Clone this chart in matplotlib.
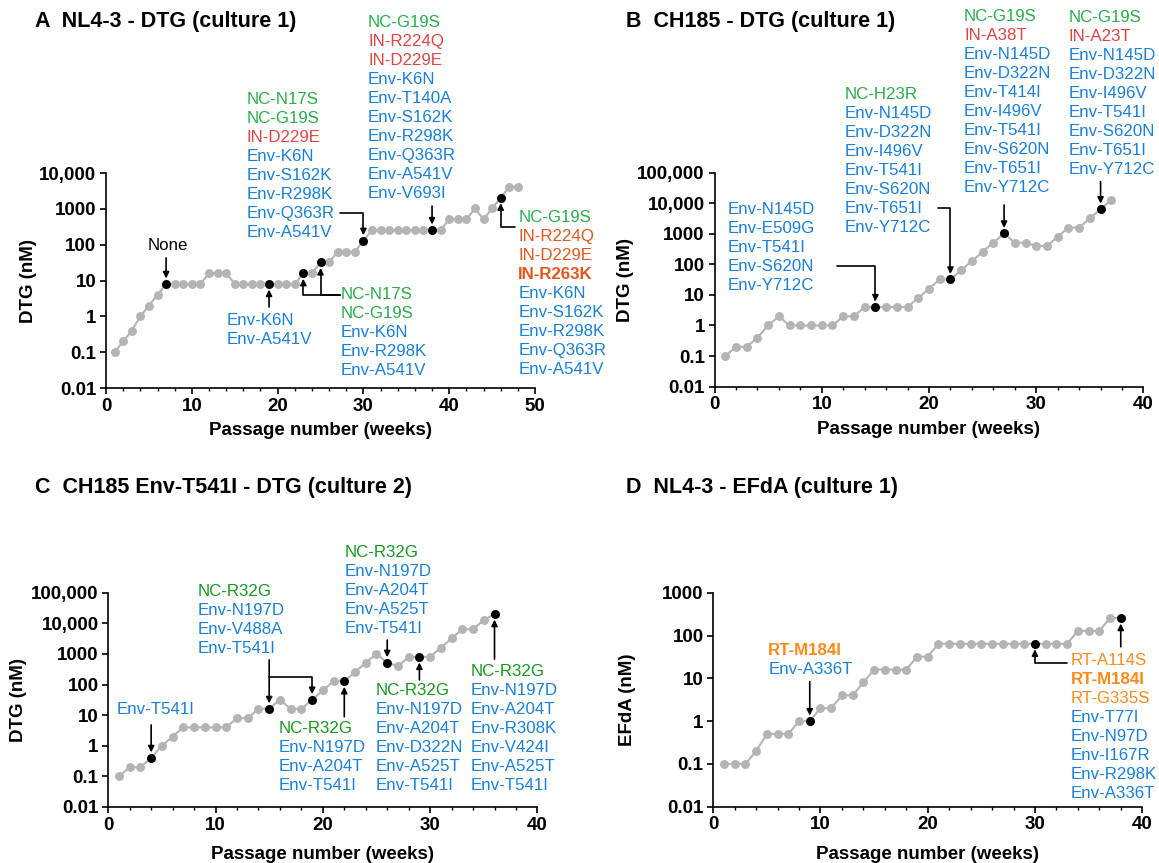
import numpy as np
import matplotlib
matplotlib.use('Agg')
import matplotlib.pyplot as plt
from matplotlib.ticker import MultipleLocator, NullLocator

plt.rcParams['font.family'] = ['Liberation Sans', 'DejaVu Sans']

# colours
GRAY = '#b4b4b4'
BLUE = '#1a80d9'
GREEN = '#2aad4a'
RED = '#e04545'
ORED = '#e2571e'
DGREEN = '#17981f'
ORANGE = '#ff8a1c'

# --- data: drug concentration (nM) per passage week, starting at week 1 ---
a_dtg = [0.1, 0.2, 0.4, 1, 2, 4, 8, 8, 8, 8, 8, 16, 16, 16,
         8, 8, 8, 8, 8, 8, 8, 8, 16, 16, 32, 32, 64, 64, 64, 128,
         256, 256, 256, 256, 256, 256, 256, 256, 256,
         512, 512, 512, 1024, 512, 1024, 2048, 4096, 4096]
a_seq = [7, 19, 23, 25, 30, 38, 46]

b_dtg = [0.1, 0.2, 0.2, 0.4, 1, 2, 1, 1, 1, 1, 1, 2, 2, 4, 4, 4, 4, 4,
         8, 16, 32, 32, 64, 128, 256, 512, 1024, 512, 512, 400, 400,
         800, 1600, 1600, 3200, 6400, 12800]
b_seq = [15, 22, 27, 36]

c_dtg = [0.1, 0.2, 0.2, 0.4, 1, 2, 4, 4, 4, 4, 4, 8, 8, 16, 16, 32, 16, 16,
         32, 64, 128, 128, 256, 512, 1024, 512, 400, 800, 800, 800,
         1600, 3200, 6400, 6400, 12800, 20000]
c_seq = [4, 15, 19, 22, 26, 29, 36]

d_efda = [0.1, 0.1, 0.1, 0.2, 0.5, 0.5, 0.5, 1, 1, 2, 2, 4, 4, 8,
          16, 16, 16, 16, 32, 32] + [64] * 13 + [128, 128, 128, 256, 256]
d_seq = [9, 30, 38]

# y axis ticks
ticks_a = [0.01, 0.1, 1, 10, 100, 1000, 10000]
labels_a = ['0.01', '0.1', '1', '10', '100', '1000', '10,000']
ticks_bc = ticks_a + [100000]
labels_bc = labels_a + ['100,000']
ticks_d = [0.01, 0.1, 1, 10, 100, 1000]
labels_d = ['0.01', '0.1', '1', '10', '100', '1000']

FS = 12.2
STEP = 19


def panel(ax, values, seq, xmax, ticks, labels, ylabel, ylab_x, xlab_y):
    weeks = np.arange(1, len(values) + 1)
    vals = np.array(values, dtype=float)
    ax.plot(weeks, vals, '-o', color=GRAY, ms=5.4, lw=1.5, zorder=2, clip_on=False)
    idx = np.array(seq) - 1
    ax.plot(weeks[idx], vals[idx], 'o', color='k', ms=5.4, zorder=3, clip_on=False)
    ax.set_yscale('log')
    ax.set_xlim(0, xmax)
    ax.set_ylim(ticks[0], ticks[-1])
    ax.set_yticks(ticks)
    ax.set_yticklabels(labels)
    ax.yaxis.set_minor_locator(NullLocator())
    ax.xaxis.set_major_locator(MultipleLocator(10))
    ax.xaxis.set_minor_locator(MultipleLocator(2))
    for s in ['top', 'right']:
        ax.spines[s].set_visible(False)
    for s in ['left', 'bottom']:
        ax.spines[s].set_linewidth(1.2)
    ax.tick_params(which='major', length=4.5, width=1.2, pad=2.5, labelsize=13.5)
    ax.tick_params(which='minor', length=2.5, width=1.0)
    for t in ax.get_xticklabels() + ax.get_yticklabels():
        t.set_fontweight('bold')
    ax.set_ylabel(ylabel, fontsize=13.5, fontweight='bold', va='center')
    ax.yaxis.set_label_coords(ylab_x, 0.5)
    ax.set_xlabel('Passage number (weeks)', fontsize=13.5, fontweight='bold', va='center')
    ax.xaxis.set_label_coords(0.5, xlab_y)
    return weeks, vals


def arrow(ax, w, v, dx, dy, elbow=False):
    cs = 'angle,angleA=0,angleB=90,rad=0' if elbow else 'arc3'
    ax.annotate('', xy=(w, v), xytext=(dx, dy), textcoords='offset pixels',
                arrowprops=dict(arrowstyle='-|>', color='k', lw=1.2, shrinkA=0,
                                shrinkB=4, mutation_scale=9, connectionstyle=cs))


def block(ax, w, v, dx, dy, lines, ha='left'):
    for i, (s, c) in enumerate(lines):
        bold = s.startswith('*')
        ax.annotate(s.lstrip('*'), xy=(w, v), xytext=(dx, dy - i * STEP - 6),
                    textcoords='offset pixels', ha=ha, va='baseline', color=c,
                    fontsize=FS, fontweight='bold' if bold else 'normal')


fig = plt.figure(figsize=(11.59, 8.63), dpi=100)
axA = fig.add_axes([0.0915, 0.5504, 0.3701, 0.2491])
axB = fig.add_axes([0.6165, 0.5520, 0.3701, 0.2479])
axC = fig.add_axes([0.0934, 0.0649, 0.3703, 0.2483])
axD = fig.add_axes([0.6154, 0.0652, 0.3701, 0.2480])

# ---------------- A ----------------
w, v = panel(axA, a_dtg, a_seq, 50, ticks_a, labels_a, 'DTG (nM)', -0.18, -0.2)
P = lambda k: (w[k - 1], v[k - 1])
block(axA, *P(7), 2, 40, [('None', 'k')], ha='center')
arrow(axA, *P(7), 0, 26)
block(axA, *P(19), -42, -35, [('Env-K6N', BLUE), ('Env-A541V', BLUE)])
arrow(axA, *P(19), 0, -23)
block(axA, *P(23), 37, -20, [('NC-N17S', GREEN), ('NC-G19S', GREEN), ('Env-K6N', BLUE),
                             ('Env-R298K', BLUE), ('Env-A541V', BLUE)])
arrow(axA, *P(23), 37, -21.5, elbow=True)
arrow(axA, *P(25), 19.5, -32.2, elbow=True)
block(axA, *P(30), -117, 143, [('NC-N17S', GREEN), ('NC-G19S', GREEN), ('IN-D229E', RED),
                               ('Env-K6N', BLUE), ('Env-S162K', BLUE), ('Env-R298K', BLUE),
                               ('Env-Q363R', BLUE), ('Env-A541V', BLUE)])
arrow(axA, *P(30), -23.4, 28, elbow=True)
block(axA, *P(38), -64, 209, [('NC-G19S', GREEN), ('IN-R224Q', RED), ('IN-D229E', RED),
                              ('Env-K6N', BLUE), ('Env-T140A', BLUE), ('Env-S162K', BLUE),
                              ('Env-R298K', BLUE), ('Env-Q363R', BLUE), ('Env-A541V', BLUE),
                              ('Env-V693I', BLUE)])
arrow(axA, *P(38), 0, 24)
block(axA, *P(46), 17.6, -18.4, [('NC-G19S', GREEN), ('IN-R224Q', ORED), ('IN-D229E', ORED),
                                 ('*IN-R263K', ORED), ('Env-K6N', BLUE), ('Env-S162K', BLUE),
                                 ('Env-R298K', BLUE), ('Env-Q363R', BLUE), ('Env-A541V', BLUE)])
arrow(axA, *P(46), 14.3, -29.7, elbow=True)

# ---------------- B ----------------
w, v = panel(axB, b_dtg, b_seq, 40, ticks_bc, labels_bc, 'DTG (nM)', -0.207, -0.2)
P = lambda k: (w[k - 1], v[k - 1])
block(axB, *P(15), -148, 99.4, [('Env-N145D', BLUE), ('Env-E509G', BLUE), ('Env-T541I', BLUE),
                                ('Env-S620N', BLUE), ('Env-Y712C', BLUE)])
arrow(axB, *P(15), -38.7, 41, elbow=True)
block(axB, *P(22), -105.5, 186, [('NC-H23R', GREEN), ('Env-N145D', BLUE), ('Env-D322N', BLUE),
                                 ('Env-I496V', BLUE), ('Env-T541I', BLUE), ('Env-S620N', BLUE),
                                 ('Env-T651I', BLUE), ('Env-Y712C', BLUE)])
arrow(axB, *P(22), -12.2, 71, elbow=True)
block(axB, *P(27), -40, 218, [('NC-G19S', GREEN), ('IN-A38T', RED), ('Env-N145D', BLUE),
                              ('Env-D322N', BLUE), ('Env-T414I', BLUE), ('Env-I496V', BLUE),
                              ('Env-T541I', BLUE), ('Env-S620N', BLUE), ('Env-T651I', BLUE),
                              ('Env-Y712C', BLUE)])
arrow(axB, *P(27), 0, 28.5)
block(axB, *P(36), -31.6, 193.5, [('NC-G19S', GREEN), ('IN-A23T', RED), ('Env-N145D', BLUE),
                                  ('Env-D322N', BLUE), ('Env-I496V', BLUE), ('Env-T541I', BLUE),
                                  ('Env-S620N', BLUE), ('Env-T651I', BLUE), ('Env-Y712C', BLUE)])
arrow(axB, *P(36), 0, 27.5)

# ---------------- C ----------------
w, v = panel(axC, c_dtg, c_seq, 40, ticks_bc, labels_bc, 'DTG (nM)', -0.208, -0.224)
P = lambda k: (w[k - 1], v[k - 1])
block(axC, *P(4), -34.5, 49.6, [('Env-T541I', BLUE)])
arrow(axC, *P(4), 0, 33)
block(axC, *P(15), -72, 119, [('NC-R32G', DGREEN), ('Env-N197D', BLUE), ('Env-V488A', BLUE),
                              ('Env-T541I', BLUE)])
arrow(axC, *P(15), 0, 49)
arrow(axC, *P(19), -43, 22.3, elbow=True)
block(axC, *P(22), -65.4, -45.5, [('NC-R32G', DGREEN), ('Env-N197D', BLUE), ('Env-A204T', BLUE),
                                  ('Env-T541I', BLUE)])
arrow(axC, *P(22), 0, -35.5)
block(axC, *P(26), -43, 112, [('NC-R32G', DGREEN), ('Env-N197D', BLUE), ('Env-A204T', BLUE),
                              ('Env-A525T', BLUE), ('Env-T541I', BLUE)])
arrow(axC, *P(26), 0, 22.8)
block(axC, *P(29), -43.5, -32, [('NC-R32G', DGREEN), ('Env-N197D', BLUE), ('Env-A204T', BLUE),
                                ('Env-D322N', BLUE), ('Env-A525T', BLUE), ('Env-T541I', BLUE)])
arrow(axC, *P(29), 0, -23)
block(axC, *P(36), -23.6, -56, [('NC-R32G', DGREEN), ('Env-N197D', BLUE), ('Env-A204T', BLUE),
                                ('Env-R308K', BLUE), ('Env-V424I', BLUE), ('Env-A525T', BLUE),
                                ('Env-T541I', BLUE)])
arrow(axC, *P(36), 0, -45)

# ---------------- D ----------------
w, v = panel(axD, d_efda, d_seq, 40, ticks_d, labels_d, 'EFdA (nM)', -0.2, -0.224)
P = lambda k: (w[k - 1], v[k - 1])
block(axD, *P(9), -41.6, 71.8, [('*RT-M184I', ORANGE), ('Env-A336T', BLUE)])
arrow(axD, *P(9), 0, 39.4)
block(axD, *P(30), 35.8, -15.2, [('RT-A114S', ORANGE), ('*RT-M184I', ORANGE), ('RT-G335S', ORANGE),
                                 ('Env-T77I', BLUE), ('Env-N97D', BLUE), ('Env-I167R', BLUE),
                                 ('Env-R298K', BLUE), ('Env-A336T', BLUE)])
arrow(axD, *P(30), 32.5, -19.5, elbow=True)
arrow(axD, *P(38), 0, -28.7)

# panel titles
tkw = dict(fontsize=15.5, fontweight='bold', va='center', ha='left')
fig.text(35 / 1159, 1 - 22 / 863, 'A  NL4-3 - DTG (culture 1)', **tkw)
fig.text(626 / 1159, 1 - 22 / 863, 'B  CH185 - DTG (culture 1)', **tkw)
fig.text(35 / 1159, 1 - 487 / 863, 'C  CH185 Env-T541I - DTG (culture 2)', **tkw)
fig.text(626 / 1159, 1 - 487 / 863, 'D  NL4-3 - EFdA (culture 1)', **tkw)

fig.savefig('out.png', dpi=100)
